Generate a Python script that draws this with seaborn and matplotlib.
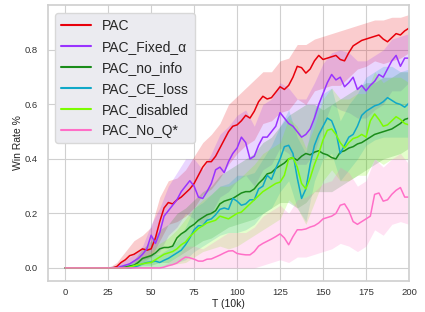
import numpy as np
import pandas as pd
import matplotlib
matplotlib.use("Agg")
import matplotlib.pyplot as plt
import seaborn as sns

# ---------------- data ----------------
labels = ["PAC", "PAC_Fixed_α", "PAC_no_info", "PAC_CE_loss", "PAC_disabled", "PAC_No_Q*"]
colors = ["#e8000b", "#9933ff", "#1a8c1a", "#10a8c8", "#7cfc00", "#ff6ec7"]

steps = np.arange(0, 200.1, 2.5)       # T (10k), mean curves
steps_band = np.arange(0, 200.1, 5.0)  # T (10k), band edges

pac = [0, 0, 0, 0, 0, 0, 0, 0, 0, 0, 0, 0,
       0.005, 0.02, 0.03, 0.045, 0.05, 0.06, 0.07, 0.065, 0.07, 0.11, 0.17, 0.22, 0.24, 0.235,
       0.25, 0.26, 0.275, 0.29, 0.31, 0.34, 0.37, 0.39, 0.39, 0.41, 0.44, 0.47, 0.50, 0.52,
       0.525, 0.54, 0.56, 0.55, 0.575, 0.61, 0.63, 0.62, 0.625, 0.645, 0.665, 0.655, 0.67, 0.70,
       0.74, 0.735, 0.715, 0.73, 0.76, 0.78, 0.765, 0.77, 0.775, 0.78, 0.765, 0.76, 0.79, 0.815,
       0.825, 0.835, 0.84, 0.845, 0.85, 0.855, 0.84, 0.83, 0.845, 0.86, 0.855, 0.87, 0.88]
fixed = [0, 0, 0, 0, 0, 0, 0, 0, 0, 0, 0, 0, 0,
         0.005, 0.01, 0.015, 0.025, 0.035, 0.05, 0.07, 0.12, 0.09, 0.13, 0.19, 0.21, 0.23,
         0.25, 0.28, 0.30, 0.32, 0.30, 0.26, 0.255, 0.28, 0.31, 0.36, 0.37, 0.35, 0.39, 0.42,
         0.44, 0.48, 0.46, 0.40, 0.41, 0.45, 0.48, 0.48, 0.50, 0.52, 0.57, 0.55, 0.53, 0.52,
         0.50, 0.48, 0.49, 0.51, 0.55, 0.60, 0.64, 0.68, 0.71, 0.69, 0.70, 0.665, 0.68, 0.70,
         0.655, 0.67, 0.65, 0.67, 0.685, 0.71, 0.70, 0.73, 0.76, 0.78, 0.74, 0.77, 0.77]
no_info = [0, 0, 0, 0, 0, 0, 0, 0, 0, 0, 0, 0, 0, 0,
           0.003, 0.007, 0.01, 0.02, 0.035, 0.04, 0.045, 0.055, 0.07, 0.075, 0.075, 0.08,
           0.11, 0.125, 0.135, 0.15, 0.16, 0.175, 0.185, 0.195, 0.20, 0.21, 0.235, 0.245, 0.25,
           0.255, 0.265, 0.275, 0.28, 0.28, 0.29, 0.31, 0.325, 0.345, 0.35, 0.365, 0.375, 0.385,
           0.40, 0.405, 0.395, 0.41, 0.42, 0.415, 0.425, 0.43, 0.42, 0.415, 0.405, 0.40, 0.425,
           0.43, 0.44, 0.445, 0.455, 0.46, 0.47, 0.48, 0.49, 0.495, 0.50, 0.505, 0.51, 0.52,
           0.53, 0.545, 0.55]
ce_loss = [0, 0, 0, 0, 0, 0, 0, 0, 0, 0, 0, 0, 0, 0, 0, 0,
           0.003, 0.008, 0.015, 0.02, 0.022, 0.025, 0.02, 0.028, 0.035, 0.045, 0.055, 0.065,
           0.085, 0.11, 0.14, 0.155, 0.155, 0.175, 0.18, 0.195, 0.215, 0.22, 0.215, 0.255, 0.245,
           0.23, 0.235, 0.25, 0.25, 0.29, 0.30, 0.34, 0.325, 0.365, 0.40, 0.445, 0.45, 0.42,
           0.33, 0.255, 0.29, 0.38, 0.45, 0.49, 0.52, 0.55, 0.54, 0.50, 0.42, 0.45, 0.48, 0.49,
           0.52, 0.56, 0.575, 0.585, 0.595, 0.60, 0.61, 0.625, 0.615, 0.605, 0.60, 0.59, 0.605]
disabled = [0, 0, 0, 0, 0, 0, 0, 0, 0, 0, 0, 0, 0, 0, 0,
            0.003, 0.008, 0.012, 0.015, 0.018, 0.02, 0.03, 0.04, 0.05, 0.055, 0.06, 0.07,
            0.085, 0.095, 0.115, 0.13, 0.145, 0.155, 0.165, 0.17, 0.175, 0.19, 0.185, 0.18, 0.19,
            0.20, 0.205, 0.22, 0.235, 0.25, 0.265, 0.28, 0.29, 0.30, 0.31, 0.315, 0.34, 0.40,
            0.405, 0.37, 0.31, 0.29, 0.33, 0.38, 0.42, 0.47, 0.505, 0.51, 0.49, 0.46, 0.44, 0.46,
            0.475, 0.48, 0.49, 0.48, 0.54, 0.565, 0.545, 0.52, 0.525, 0.54, 0.555, 0.545, 0.53,
            0.525]
no_q = [0, 0, 0, 0, 0, 0, 0, 0, 0, 0, 0, 0, 0, 0, 0, 0, 0, 0, 0, 0, 0, 0, 0,
        0.003, 0.008, 0.012, 0.018, 0.03, 0.04, 0.037, 0.032, 0.025, 0.025, 0.032, 0.033,
        0.04, 0.047, 0.055, 0.062, 0.063, 0.053, 0.05, 0.048, 0.048, 0.06, 0.08, 0.09, 0.098,
        0.106, 0.115, 0.125, 0.11, 0.085, 0.115, 0.14, 0.14, 0.143, 0.15, 0.155, 0.165, 0.18,
        0.185, 0.19, 0.20, 0.23, 0.235, 0.21, 0.17, 0.16, 0.17, 0.18, 0.19, 0.27, 0.275, 0.245,
        0.25, 0.27, 0.285, 0.295, 0.26, 0.26]

pac_lo = [0, 0, 0, 0, 0, 0, 0, 0.01, 0.02, 0.03, 0.04, 0.10, 0.16, 0.17, 0.19, 0.22, 0.27, 0.29,
          0.33, 0.38, 0.42, 0.45, 0.47, 0.53, 0.54, 0.57, 0.58, 0.62, 0.60, 0.65, 0.66, 0.67,
          0.67, 0.70, 0.73, 0.74, 0.76, 0.75, 0.76, 0.77, 0.79]
pac_hi = [0, 0, 0, 0, 0, 0, 0.02, 0.06, 0.10, 0.12, 0.15, 0.26, 0.32, 0.33, 0.36, 0.41, 0.46,
          0.49, 0.53, 0.60, 0.63, 0.66, 0.69, 0.72, 0.72, 0.76, 0.77, 0.82, 0.82, 0.84, 0.85,
          0.86, 0.87, 0.88, 0.89, 0.90, 0.91, 0.91, 0.92, 0.92, 0.93]
fixed_lo = [0, 0, 0, 0, 0, 0, 0, 0, 0.01, 0.02, 0.04, 0.06, 0.12, 0.15, 0.20, 0.18, 0.16, 0.20,
            0.26, 0.28, 0.32, 0.34, 0.30, 0.36, 0.38, 0.44, 0.42, 0.38, 0.38, 0.42, 0.52, 0.60,
            0.58, 0.57, 0.55, 0.55, 0.58, 0.60, 0.65, 0.65, 0.68]
fixed_hi = [0, 0, 0, 0, 0, 0, 0.01, 0.03, 0.05, 0.08, 0.16, 0.22, 0.30, 0.35, 0.40, 0.40, 0.36,
            0.42, 0.49, 0.52, 0.56, 0.58, 0.52, 0.60, 0.62, 0.68, 0.66, 0.62, 0.62, 0.68, 0.75,
            0.79, 0.80, 0.79, 0.76, 0.76, 0.78, 0.80, 0.84, 0.85, 0.86]
no_info_lo = [0, 0, 0, 0, 0, 0, 0, 0, 0, 0.01, 0.01, 0.02, 0.02, 0.04, 0.06, 0.08, 0.10, 0.11,
              0.13, 0.15, 0.16, 0.17, 0.18, 0.20, 0.22, 0.24, 0.24, 0.22, 0.24, 0.28, 0.28,
              0.28, 0.30, 0.32, 0.34, 0.36, 0.38, 0.40, 0.41, 0.42, 0.44]
no_info_hi = [0, 0, 0, 0, 0, 0, 0, 0.01, 0.03, 0.07, 0.10, 0.14, 0.16, 0.20, 0.22, 0.25, 0.28,
              0.30, 0.34, 0.36, 0.38, 0.40, 0.42, 0.46, 0.48, 0.52, 0.56, 0.58, 0.60, 0.60,
              0.58, 0.60, 0.62, 0.64, 0.66, 0.68, 0.68, 0.70, 0.70, 0.72, 0.72]
ce_lo = [0, 0, 0, 0, 0, 0, 0, 0, 0, 0, 0, 0, 0.01, 0.02, 0.03, 0.06, 0.08, 0.10, 0.12, 0.13,
         0.13, 0.14, 0.16, 0.20, 0.22, 0.28, 0.32, 0.22, 0.17, 0.32, 0.40, 0.42, 0.32, 0.36,
         0.40, 0.45, 0.47, 0.48, 0.48, 0.48, 0.48]
ce_hi = [0, 0, 0, 0, 0, 0.005, 0.01, 0.015, 0.02, 0.04, 0.05, 0.05, 0.07, 0.10, 0.15, 0.22,
         0.24, 0.27, 0.30, 0.31, 0.34, 0.34, 0.35, 0.40, 0.45, 0.52, 0.58, 0.48, 0.42, 0.58,
         0.64, 0.66, 0.54, 0.60, 0.64, 0.70, 0.72, 0.74, 0.74, 0.72, 0.73]
disabled_lo = [0, 0, 0, 0, 0, 0, 0, 0, 0, 0, 0, 0.005, 0.01, 0.015, 0.02, 0.04, 0.06, 0.07,
               0.08, 0.07, 0.08, 0.10, 0.12, 0.14, 0.16, 0.18, 0.25, 0.22, 0.16, 0.24, 0.32,
               0.36, 0.32, 0.32, 0.34, 0.34, 0.40, 0.38, 0.40, 0.40, 0.40]
disabled_hi = [0, 0, 0, 0, 0, 0, 0, 0, 0.02, 0.04, 0.06, 0.09, 0.11, 0.14, 0.18, 0.22, 0.25,
               0.27, 0.30, 0.30, 0.32, 0.35, 0.38, 0.42, 0.44, 0.46, 0.55, 0.52, 0.44, 0.52,
               0.62, 0.66, 0.62, 0.62, 0.64, 0.64, 0.72, 0.68, 0.70, 0.70, 0.68]
no_q_lo = [0, 0, 0, 0, 0, 0, 0, 0, 0, 0, 0, 0, 0, 0, 0, 0, 0, 0, 0, 0, 0, 0, 0,
           0.01, 0.02, 0.03, 0.02, 0.04, 0.04, 0.05, 0.06, 0.07, 0.09, 0.08, 0.06, 0.08,
           0.14, 0.12, 0.16, 0.17, 0.16]
no_q_hi = [0, 0, 0, 0, 0, 0, 0, 0, 0, 0, 0, 0, 0.02, 0.04, 0.08, 0.08, 0.07, 0.09, 0.11, 0.13,
           0.13, 0.13, 0.15, 0.19, 0.21, 0.23, 0.20, 0.25, 0.26, 0.28, 0.31, 0.32, 0.37, 0.35,
           0.30, 0.32, 0.40, 0.37, 0.40, 0.42, 0.38]

means = [pac, fixed, no_info, ce_loss, disabled, no_q]
lows = [pac_lo, fixed_lo, no_info_lo, ce_lo, disabled_lo, no_q_lo]
highs = [pac_hi, fixed_hi, no_info_hi, ce_hi, disabled_hi, no_q_hi]

df = pd.concat([pd.DataFrame({"T": steps, "win": m, "method": lab})
                for m, lab in zip(means, labels)], ignore_index=True)

# ---------------- plot ----------------
sns.set_theme(style="whitegrid")
plt.rcParams["font.family"] = ["Liberation Sans", "DejaVu Sans"]

fig = plt.figure(figsize=(4.25, 3.12), dpi=100)
ax = fig.add_axes([48 / 425, 31 / 312, 361 / 425, 276 / 312])

for lo, hi, c in zip(lows, highs, colors):
    ax.fill_between(steps_band, lo, hi, color=c, alpha=0.2, linewidth=0)

sns.lineplot(data=df, x="T", y="win", hue="method", hue_order=labels,
             palette=colors, linewidth=1.1, errorbar=None, ax=ax)

ax.set_xlim(-10, 200)
ax.set_ylim(-0.048, 0.965)
ax.set_xticks([0, 25, 50, 75, 100, 125, 150, 175, 200])
ax.set_yticks([0.0, 0.2, 0.4, 0.6, 0.8])
ax.set_yticklabels(["0.0", "0.2", "0.4", "0.6", "0.8"])
ax.tick_params(axis="x", labelsize=6.8, colors="#333333", length=0, pad=5.2)
ax.tick_params(axis="y", labelsize=6.8, colors="#333333", length=0, pad=7.2)
ax.set_xlabel("T (10k)", fontsize=7.5, color="#222222", labelpad=1.2)
ax.set_ylabel("Win Rate %", fontsize=7.5, color="#222222", labelpad=1.2)
ax.grid(color="#d0d0d0", linewidth=0.8)
for s in ax.spines.values():
    s.set_color("#d0d0d0")

leg = ax.legend(loc="upper left", bbox_to_anchor=(0.0, 0.995), fontsize=10,
                frameon=True, facecolor="#ebebf0", edgecolor="#d8d8d8", framealpha=1.0,
                handlelength=2.2, borderpad=0.4, labelspacing=0.5)
for line in leg.get_lines():
    line.set_linewidth(1.5)

fig.savefig("out.png", dpi=100)
